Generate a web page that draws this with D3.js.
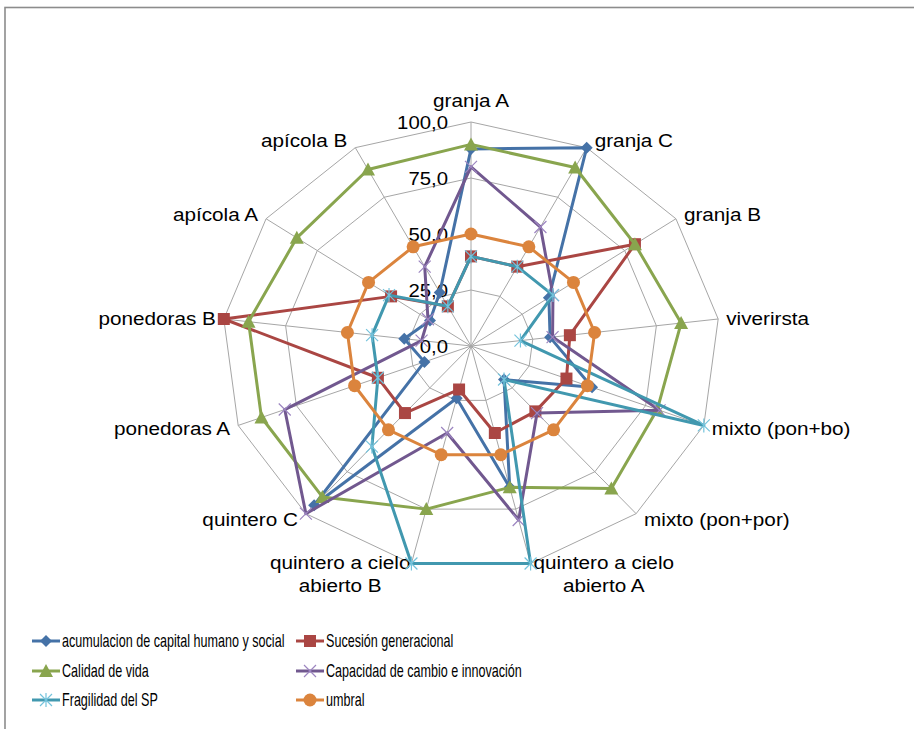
<!DOCTYPE html>
<html>
<head>
<meta charset="utf-8">
<script src="https://cdn.jsdelivr.net/npm/d3@7"></script>
<style>
  html, body { margin: 0; padding: 0; background: #fff; }
  svg { display: block; }
</style>
</head>
<body>
<svg id="chart" width="914" height="729"></svg>
<script>
// Radar axes (clockwise from the top)
const categories = [
  "granja A", "granja C", "granja B", "viverirsta", "mixto (pon+bo)",
  "mixto (pon+por)", "quintero a cielo abierto A", "quintero a cielo abierto B",
  "quintero C", "ponedoras A", "ponedoras B", "apícola A", "apícola B"
];

// Series values, one per category
const acumulacion = [88, 100, 38, 32, 52, 20, 65, 24, 95, 20, 27, 20, 27];
const sucesion    = [40, 40, 80, 40, 41, 39, 40, 20, 40, 40, 100, 39, 20];
const calidad     = [90, 90, 80, 85, 80, 85, 65, 75, 90, 90, 90, 85, 89];
const capacidad   = [80, 60, 40, 33, 81, 40, 80, 40, 100, 80, 20, 21, 40];
const fragilidad  = [40, 40, 40, 20, 100, 20, 100, 100, 60, 40, 40, 40, 20];
const umbral      = [50, 50, 50, 50, 50, 50, 50, 50, 50, 50, 50, 50, 50];

const seriesNames = [
  "acumulacion de capital humano y social",
  "Sucesión generacional",
  "Calidad de vida",
  "Capacidad de cambio e innovación",
  "Fragilidad del SP",
  "umbral"
];

// Radial tick values
const tickValues = [0, 25, 50, 75, 100];

const series = [
  { name: seriesNames[0], values: acumulacion, color: "#4572A7", marker: "diamond" },
  { name: seriesNames[1], values: sucesion,    color: "#AA4643", marker: "square" },
  { name: seriesNames[2], values: calidad,     color: "#89A54E", marker: "triangle" },
  { name: seriesNames[3], values: capacidad,   color: "#71588F", marker: "x" },
  { name: seriesNames[4], values: fragilidad,  color: "#4198AF", marker: "star" },
  { name: seriesNames[5], values: umbral,      color: "#DB843D", marker: "circle" }
];

const svg = d3.select("#chart");

// Outer frame
svg.append("rect")
  .attr("x", 5).attr("y", 7.5)
  .attr("width", 1200).attr("height", 1200)
  .attr("fill", "none")
  .attr("stroke", "#8c8c8c")
  .attr("stroke-width", 1.6);

const cx = 471, cy = 346;
const rX = d3.scaleLinear().domain([0, 100]).range([0, 249]);
const rY = d3.scaleLinear().domain([0, 100]).range([0, 224]);
const angle = d3.scaleLinear().domain([0, categories.length]).range([0, 2 * Math.PI]);

function pos(i, v) {
  const a = angle(i);
  return [cx + rX(v) * Math.sin(a), cy - rY(v) * Math.cos(a)];
}

const idx = d3.range(categories.length);
const labelFont = "Liberation Sans, Arial, sans-serif";

// Grid rings
const grid = svg.append("g");
tickValues.filter(t => t > 0).forEach(t => {
  grid.append("path")
    .attr("d", d3.line()(idx.map(i => pos(i, t))) + "Z")
    .attr("fill", "none")
    .attr("stroke", "#a6a6a6")
    .attr("stroke-width", 1);
});
// Spokes
idx.forEach(i => {
  const [x, y] = pos(i, 100);
  grid.append("line")
    .attr("x1", cx).attr("y1", cy).attr("x2", x).attr("y2", y)
    .attr("stroke", "#a6a6a6").attr("stroke-width", 1);
});

// Tick labels
const fmt = v => d3.format(".1f")(v).replace(".", ",");
const tickG = svg.append("g");
tickValues.forEach(t => {
  tickG.append("g")
    .attr("transform", `translate(${cx - 23},${cy - rY(t)}) scale(1.1,1)`)
    .append("text")
    .attr("text-anchor", "end")
    .attr("dominant-baseline", "central")
    .attr("font-family", labelFont)
    .attr("font-size", 18.5)
    .attr("fill", "#000")
    .text(fmt(t));
});

// Category labels
const labG = svg.append("g");
idx.forEach(i => {
  const a = angle(i);
  const s = Math.sin(a), c = Math.cos(a);
  const [vx, vy] = pos(i, 100);
  let x, y, anchor, lines = [categories[i]];
  if (i === 0) {
    x = vx; y = vy - 22; anchor = "middle";
  } else if (c < -0.95) {
    const words = categories[i].split(" ");
    lines = [words.slice(0, 3).join(" "), words.slice(3).join(" ")];
    anchor = s > 0 ? "start" : "end";
    x = vx + (s > 0 ? 3 : -1);
    y = vy - 1;
  } else {
    anchor = s > 0 ? "start" : "end";
    x = vx + (s > 0 ? 8 : -8);
    y = vy - 8 * c;
  }
  const g = labG.append("g").attr("transform", `translate(${x},${y}) scale(1.12,1)`);
  const t = g.append("text")
    .attr("text-anchor", anchor)
    .attr("font-family", labelFont)
    .attr("font-size", 18.5)
    .attr("fill", "#000");
  lines.forEach((ln, k) => {
    t.append("tspan")
      .attr("x", 0).attr("y", k * 23)
      .attr("dominant-baseline", "central")
      .text(ln);
  });
  if (lines.length === 2) {
    // second line centred under the first
    const tsp = t.selectAll("tspan").nodes();
    const off = (tsp[0].getComputedTextLength() - tsp[1].getComputedTextLength()) / 2;
    d3.select(tsp[1]).attr("x", anchor === "start" ? off : -off);
  }
});

// Marker drawing
function drawMarker(g, type, x, y, color) {
  switch (type) {
    case "diamond":
      g.append("path")
        .attr("d", `M${x},${y - 6}L${x + 6},${y}L${x},${y + 6}L${x - 6},${y}Z`)
        .attr("fill", color);
      break;
    case "square":
      g.append("rect")
        .attr("x", x - 6).attr("y", y - 6).attr("width", 12).attr("height", 12)
        .attr("fill", color);
      break;
    case "triangle":
      g.append("path")
        .attr("d", `M${x},${y - 7}L${x + 7},${y + 6}L${x - 7},${y + 6}Z`)
        .attr("fill", color);
      break;
    case "circle":
      g.append("circle").attr("cx", x).attr("cy", y).attr("r", 6.5).attr("fill", color);
      break;
    case "x":
      g.append("path")
        .attr("d", `M${x - 6},${y - 6}L${x + 6},${y + 6}M${x - 6},${y + 6}L${x + 6},${y - 6}`)
        .attr("stroke", "#9c85c0").attr("stroke-width", 1.2).attr("fill", "none");
      break;
    case "star":
      g.append("path")
        .attr("d", `M${x - 6},${y - 6}L${x + 6},${y + 6}M${x - 6},${y + 6}L${x + 6},${y - 6}M${x},${y - 7}L${x},${y + 7}`)
        .attr("stroke", "#74c3dc").attr("stroke-width", 1.2).attr("fill", "none");
      break;
  }
}

// Series lines and markers
const lineGen = d3.line();
const plot = svg.append("g");
series.forEach(s => {
  const pts = s.values.map((v, i) => pos(i, v));
  const g = plot.append("g");
  g.append("path")
    .attr("d", lineGen(pts) + "Z")
    .attr("fill", "none")
    .attr("stroke", s.color)
    .attr("stroke-width", 3)
    .attr("stroke-linejoin", "round");
  pts.forEach(([x, y]) => drawMarker(g, s.marker, x, y, s.color));
});

// Legend
const legend = svg.append("g");
const colX = [32, 296];
const rowY = [641, 671, 700];
series.forEach((s, k) => {
  const x0 = colX[k % 2], y0 = rowY[Math.floor(k / 2)];
  const g = legend.append("g");
  g.append("line")
    .attr("x1", x0).attr("x2", x0 + 28).attr("y1", y0).attr("y2", y0)
    .attr("stroke", s.color).attr("stroke-width", 3);
  drawMarker(g, s.marker, x0 + 14, y0, s.color);
  g.append("g")
    .attr("transform", `translate(${x0 + 30},${y0}) scale(0.7,1)`)
    .append("text")
    .attr("dominant-baseline", "central")
    .attr("font-family", labelFont)
    .attr("font-size", 18)
    .attr("fill", "#000")
    .text(s.name);
});
</script>
</body>
</html>
